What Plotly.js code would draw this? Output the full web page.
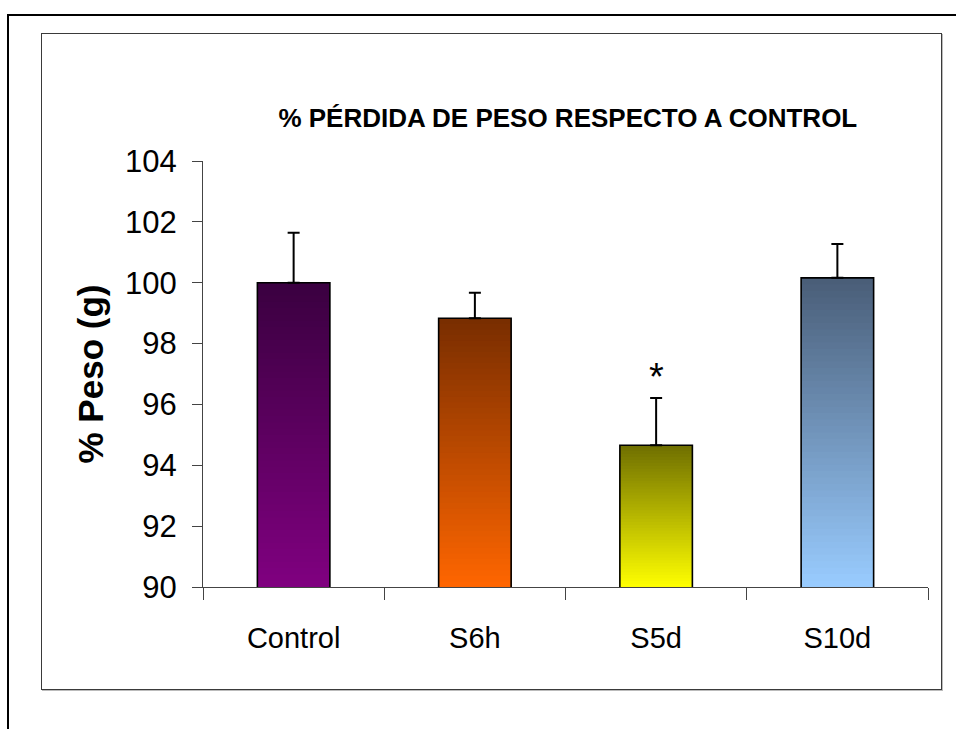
<!DOCTYPE html>
<html>
<head>
<meta charset="utf-8">
<script src="https://cdn.plot.ly/plotly-3.0.1.min.js"></script>
<style>
  html, body { margin: 0; padding: 0; background: #ffffff; }
  #wrap { position: relative; width: 956px; height: 729px; overflow: hidden; }
  #chart { position: absolute; left: 0; top: 0; width: 956px; height: 729px; }
  .outer { position: absolute; left: 7px; top: 14px; width: 960px; height: 730px;
           border-top: 2px solid #000; border-left: 2px solid #000; pointer-events: none; }
  .inner { position: absolute; left: 41px; top: 33px; width: 899px; height: 655px;
           border: 1.5px solid #3a3a3a; box-shadow: 1px 1px 0 #bbbbbb; pointer-events: none; }
</style>
</head>
<body>
<div id="wrap">
  <div class="outer"></div>
  <div class="inner"></div>
  <div id="chart"></div>
</div>
<script>
// ---- data ----
const categories = ['Control', 'S6h', 'S5d', 'S10d'];
const values = [100.0, 98.83, 94.66, 100.16];
const errorsPlus = [1.64, 0.84, 1.55, 1.11];
const significance = ['', '', '*', ''];
const yTickValues = [90, 92, 94, 96, 98, 100, 102, 104];
const chartTitle = '% PÉRDIDA DE PESO RESPECTO A CONTROL';
const yTitle = '% Peso (g)';

// ---- styling ----
const topColors = ['#3a0040', '#782d00', '#6e6e00', '#495d77'];
const bottomColors = ['#800080', '#ff6600', '#ffff00', '#99ccff'];
const yMin = 90, yMax = 104;
const steps = 48;

function hexToRgb(h) {
  const n = parseInt(h.slice(1), 16);
  return [(n >> 16) & 255, (n >> 8) & 255, n & 255];
}
function mix(a, b, t) {
  const A = hexToRgb(a), B = hexToRgb(b);
  return 'rgb(' + A.map((v, i) => Math.round(v + (B[i] - v) * t)).join(',') + ')';
}

const traces = [];
// gradient fill: overlaid bars of decreasing height, each covering the lower part
for (let k = 0; k < steps; k++) {
  const f = 1 - k / steps;
  const fc = f - 0.5 / steps;
  traces.push({
    type: 'bar',
    x: categories,
    y: values.map(v => yMin + (v - yMin) * f),
    marker: {
      color: categories.map((c, i) => mix(bottomColors[i], topColors[i], fc)),
      line: { width: 0 }
    },
    hoverinfo: 'skip',
    showlegend: false
  });
}
// outline + error bars
traces.push({
  type: 'bar',
  x: categories,
  y: values,
  marker: { color: 'rgba(0,0,0,0)', line: { color: '#000000', width: 1.6 } },
  error_y: {
    type: 'data', symmetric: false,
    array: errorsPlus, arrayminus: values.map(() => 0),
    color: '#000000', thickness: 2, width: 6
  },
  hoverinfo: 'skip',
  showlegend: false
});

const annotations = categories.map((c, i) => significance[i] ? {
  x: c, y: values[i] + errorsPlus[i] + 0.7, xref: 'x', yref: 'y',
  text: significance[i], showarrow: false, yanchor: 'middle',
  font: { family: 'Liberation Sans, Arial, sans-serif', size: 38, color: '#000' }
} : null).filter(a => a);

const layout = {
  width: 956, height: 729,
  margin: { l: 203, r: 28, t: 161, b: 142, pad: 0 },
  paper_bgcolor: 'rgba(0,0,0,0)',
  plot_bgcolor: 'rgba(0,0,0,0)',
  barmode: 'overlay',
  bargap: 0.6,
  title: {
    text: '<b>' + chartTitle + '</b>',
    x: 0.594, xanchor: 'center', y: 0.838, yanchor: 'middle',
    font: { family: 'Liberation Sans, Arial, sans-serif', size: 26, color: '#000' }
  },
  xaxis: {
    type: 'category',
    showline: true, linecolor: '#444', linewidth: 1,
    ticks: 'outside', tickson: 'boundaries', ticklen: 12, tickcolor: '#444', tickwidth: 1,
    showgrid: false, zeroline: false,
    ticklabelstandoff: 25,
    tickfont: { family: 'Liberation Sans, Arial, sans-serif', size: 29, color: '#000' }
  },
  yaxis: {
    range: [yMin, yMax],
    tickvals: yTickValues,
    showline: true, linecolor: '#444', linewidth: 1,
    ticks: 'outside', ticklen: 10, tickcolor: '#444', tickwidth: 1,
    showgrid: false, zeroline: false,
    ticklabelstandoff: 9,
    tickfont: { family: 'Liberation Sans, Arial, sans-serif', size: 31, color: '#000' },
    title: {
      text: '<b>' + yTitle + '</b>', standoff: 10,
      font: { family: 'Liberation Sans, Arial, sans-serif', size: 35, color: '#000' }
    }
  },
  annotations: annotations,
  showlegend: false
};

Plotly.newPlot('chart', traces, layout, { displayModeBar: false, staticPlot: true });
</script>
</body>
</html>
